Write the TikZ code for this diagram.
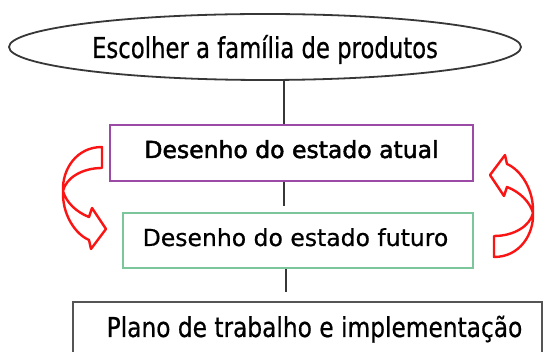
\documentclass[tikz,border=0pt]{standalone}
\usepackage{fontspec}
\setmainfont{DejaVu Sans}
\newfontfamily\fellipse[FakeStretch=0.79,FakeBold=0.6]{DejaVu Sans}
\newfontfamily\fbottom[FakeStretch=0.85,FakeBold=0.6]{DejaVu Sans}
\newfontfamily\fatual[FakeBold=2]{DejaVu Sans}
\newfontfamily\ffuturo[FakeBold=0.6]{DejaVu Sans}
\usetikzlibrary{shapes.geometric}
\definecolor{purpleedge}{RGB}{155,75,165}
\definecolor{greenedge}{RGB}{125,198,155}
\definecolor{darkline}{RGB}{55,55,55}
\definecolor{boxline}{RGB}{85,85,85}
\definecolor{arrowred}{RGB}{250,20,20}
\tikzset{
  topell/.style={ellipse, draw=darkline, line width=1.8pt, fill=white, inner sep=0pt,
    minimum width=512pt, minimum height=66pt, font=\fellipse\fontsize{28.8}{30}\selectfont,
    text height=22pt, text depth=0pt},
  stagebox/.style={rectangle, fill=white, inner sep=0pt, text depth=0pt,
    font=\ffuturo\fontsize{23.5}{26}\selectfont},
  planbox/.style={rectangle, draw=boxline, line width=1.2pt, fill=white, inner sep=0pt,
    font=\fbottom\fontsize{27.4}{30}\selectfont, text depth=0pt},
  conn/.style={draw=darkline, line width=2pt},
  cycarrow/.style={draw=arrowred, line width=2.4pt, fill=white, line join=round}
}
\begin{document}
\begin{tikzpicture}[x=1pt,y=-1pt]
\useasboundingbox (0,0) rectangle (552,352);
\clip (0,0) rectangle (552,352);
\fill[white] (0,0) rectangle (552,352);

\node[topell] (fam) at (265,47) {Escolher a família de produtos};
\node[stagebox, draw=purpleedge, line width=2.2pt, minimum width=363pt, minimum height=56pt,
  text height=10pt, font=\fatual\fontsize{23.5}{26}\selectfont] (atual) at (291.5,153)
  {Desenho do estado atual};
\node[stagebox, draw=greenedge, line width=1.6pt, minimum width=350pt, minimum height=55pt,
  text height=11pt] (futuro) at (298,240.5) {\hspace*{-5pt}Desenho do estado futuro};
\node[planbox, minimum width=469pt, minimum height=64pt, text height=6pt] (plano) at (307.5,334)
  {\hspace*{14pt}Plano de trabalho e implementação};

\draw[conn] ([xshift=-7.5pt]atual.north |- fam.south) -- ([xshift=-7.5pt]atual.north);
\draw[conn, shorten >=6pt] ([xshift=-7.5pt]atual.south) -- ([xshift=-14pt]futuro.north);
\draw[conn, shorten >=9pt] ([xshift=-12pt]futuro.south) -- ([xshift=-12pt]futuro.south |- plano.north);

\coordinate (L) at (63,191);
\path[cycarrow] (102,147) .. controls (76,147) and (62,170) .. (L)
  .. controls (62,214) and (75,234) .. (89,240) -- (91,249) -- (106,229) -- (92,208) -- (89,217)
  .. controls (76,212) and (66,202) .. (L)
  .. controls (66,178) and (82,168) .. (102,168) -- cycle;
\begin{scope}[rotate around={180:(298,202)}]
\path[cycarrow] (102,147) .. controls (76,147) and (62,170) .. (63,191)
  .. controls (62,214) and (75,234) .. (89,240) -- (91,249) -- (106,229) -- (92,208) -- (89,217)
  .. controls (76,212) and (66,202) .. (63,191)
  .. controls (66,178) and (82,168) .. (102,168) -- cycle;
\end{scope}
\end{tikzpicture}
\end{document}
